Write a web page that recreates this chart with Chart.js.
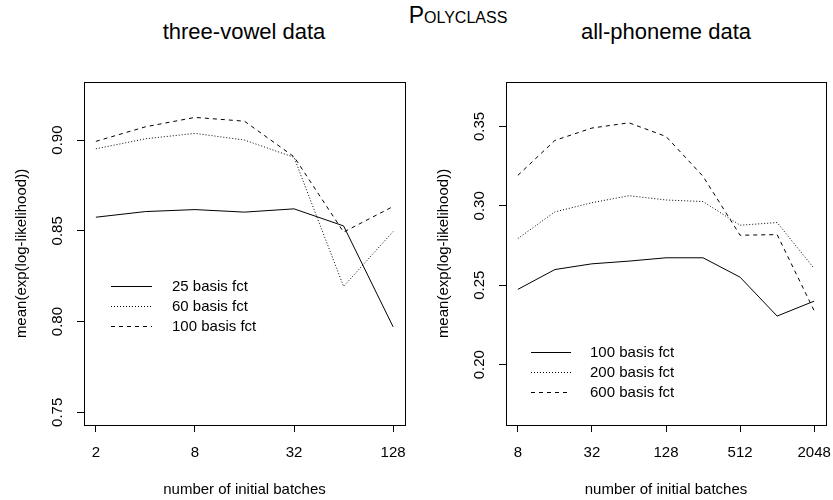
<!DOCTYPE html>
<html>
<head>
<meta charset="utf-8">
<script src="https://cdn.jsdelivr.net/npm/chart.js@4.4.1/dist/chart.umd.min.js"></script>
<style>
  body{margin:0;background:#fff;font-family:"Liberation Sans",Arial,Helvetica,sans-serif;color:#000}
  #wrap{position:relative;width:833px;height:500px;overflow:hidden}
  canvas{position:absolute;top:0}
  #cvVowel{left:0}
  #cvPhon{left:416px}
  .ttl{position:absolute;top:21px;font-size:22px;line-height:1;white-space:nowrap;transform:translateX(-50%)}
  #mainTtl{position:absolute;left:458px;top:4px;font-size:23px;line-height:1;font-variant:small-caps;white-space:nowrap;transform:translateX(-50%)}
</style>
</head>
<body>
<div id="wrap">
  <div id="mainTtl">Polyclass</div>
  <div class="ttl" style="left:244px">three-vowel data</div>
  <div class="ttl" style="left:666px">all-phoneme data</div>
  <canvas id="cvVowel" width="416" height="500"></canvas>
  <canvas id="cvPhon" width="417" height="500"></canvas>
</div>
<script>
// three-vowel data
const vowelBatches = [2, 4, 8, 16, 32, 64, 128];
const vowelLabels = ['25 basis fct', '60 basis fct', '100 basis fct'];
const vowel25  = [0.8575, 0.8606, 0.8617, 0.8603, 0.8621, 0.8527, 0.7971];
const vowel60  = [0.8952, 0.9007, 0.9037, 0.9000, 0.8905, 0.8194, 0.8496];
const vowel100 = [0.8993, 0.9073, 0.9125, 0.9104, 0.8908, 0.8493, 0.8634];
const vowelXTicks = [2, 8, 32, 128];
const vowelYTicks = [0.75, 0.80, 0.85, 0.90];
const vowelYLim = [0.75, 0.925];

// all-phoneme data
const phonBatches = [8, 16, 32, 64, 128, 256, 512, 1024, 2048];
const phonLabels = ['100 basis fct', '200 basis fct', '600 basis fct'];
const phon100 = [0.2474, 0.2599, 0.2635, 0.2652, 0.2673, 0.2673, 0.2551, 0.2306, 0.2400];
const phon200 = [0.2794, 0.2962, 0.3020, 0.3064, 0.3037, 0.3027, 0.2878, 0.2895, 0.2606];
const phon600 = [0.3192, 0.3412, 0.3490, 0.3523, 0.3437, 0.3186, 0.2815, 0.2819, 0.2340];
const phonXTicks = [8, 32, 128, 512, 2048];
const phonYTicks = [0.20, 0.25, 0.30, 0.35];
const phonYLim = [0.17, 0.37];

const FONT = '"Liberation Sans", Arial, Helvetica, sans-serif';
const dashes = [[], [1, 2], [4, 4]];

// R-style 4% range extension
const extLin = ([lo, hi]) => { const d = (hi - lo) * 0.04; return [lo - d, hi + d]; };
const extLog = (arr) => {
  const lo = Math.log(Math.min(...arr)), hi = Math.log(Math.max(...arr));
  const d = (hi - lo) * 0.04;
  return [Math.exp(lo - d), Math.exp(hi + d)];
};

// frame around the plot region + legend inside it
const frameLegend = {
  id: 'frameLegend',
  afterDraw(chart, args, o){
    const ctx = chart.ctx, a = chart.chartArea;
    ctx.save();
    ctx.strokeStyle = '#000';
    ctx.lineWidth = 1;
    ctx.strokeRect(Math.round(a.left) + 0.5, Math.round(a.top) + 0.5,
                   Math.round(a.right - a.left), Math.round(a.bottom - a.top));
    ctx.font = '15px ' + FONT;
    ctx.fillStyle = '#000';
    ctx.textBaseline = 'middle';
    chart.data.datasets.forEach((ds, i) => {
      const y = Math.round(o.y + i * o.gap) + 0.5;
      ctx.setLineDash(ds.borderDash || []);
      ctx.beginPath(); ctx.moveTo(o.x1, y); ctx.lineTo(o.x2, y); ctx.stroke();
      ctx.setLineDash([]);
      ctx.fillText(ds.label, o.tx, y);
    });
    ctx.restore();
  }
};

function makePanel(id, batches, labels, series, xTicks, yTicks, yLim, axisW, padRight, yTitlePad, legend){
  const [xMin, xMax] = extLog(batches);
  const [yMin, yMax] = extLin(yLim);
  const datasets = series.map((vals, i) => ({
    label: labels[i],
    data: batches.map((b, j) => ({x: b, y: vals[j]})),
    borderColor: '#000',
    borderWidth: 1,
    borderDash: dashes[i],
    pointRadius: 0,
    tension: 0,
    fill: false
  }));
  const tickGrid = {display: true, drawOnChartArea: false, drawTicks: true, tickLength: 7, color: '#000', lineWidth: 1};
  return new Chart(document.getElementById(id), {
    type: 'line',
    data: {datasets},
    options: {
      responsive: false,
      animation: false,
      layout: {padding: {top: 82, right: padRight, left: 0, bottom: 0}},
      scales: {
        x: {
          type: 'logarithmic',
          min: xMin, max: xMax,
          afterBuildTicks: s => { s.ticks = xTicks.map(v => ({value: v})); },
          // fixed axis height, no extra room for edge labels
          afterFit: s => { s.height = 75; s.paddingLeft = 0; s.paddingRight = 0; },
          ticks: {autoSkip: false, minRotation: 0, maxRotation: 0, padding: 12, color: '#000',
                  font: {size: 15, family: FONT}, callback: v => String(v)},
          grid: tickGrid,
          border: {display: false},
          title: {display: true, text: 'number of initial batches', color: '#000',
                  font: {size: 15, family: FONT}, padding: {top: 0, bottom: 1}}
        },
        y: {
          type: 'linear',
          min: yMin, max: yMax,
          afterBuildTicks: s => { s.ticks = yTicks.map(v => ({value: v})); },
          afterFit: s => { s.width = axisW; s.paddingTop = 0; s.paddingBottom = 0; },
          ticks: {autoSkip: false, minRotation: 90, maxRotation: 90, crossAlign: 'center', padding: 5,
                  color: '#000', font: {size: 15, family: FONT}, callback: v => v.toFixed(2)},
          grid: tickGrid,
          border: {display: false},
          title: {display: true, text: 'mean(exp(log-likelihood))', color: '#000',
                  font: {size: 15, family: FONT}, padding: {top: yTitlePad, bottom: 0}}
        }
      },
      plugins: {
        legend: {display: false},
        tooltip: {enabled: false},
        frameLegend: legend
      }
    },
    plugins: [frameLegend]
  });
}

makePanel('cvVowel', vowelBatches, vowelLabels, [vowel25, vowel60, vowel100],
  vowelXTicks, vowelYTicks, vowelYLim, 84, 11, 13,
  {x1: 111, x2: 152, tx: 172, y: 286, gap: 20});

makePanel('cvPhon', phonBatches, phonLabels, [phon100, phon200, phon600],
  phonXTicks, phonYTicks, phonYLim, 90, 7, 19,
  {x1: 115, x2: 155, tx: 174, y: 352, gap: 20});
</script>
</body>
</html>
